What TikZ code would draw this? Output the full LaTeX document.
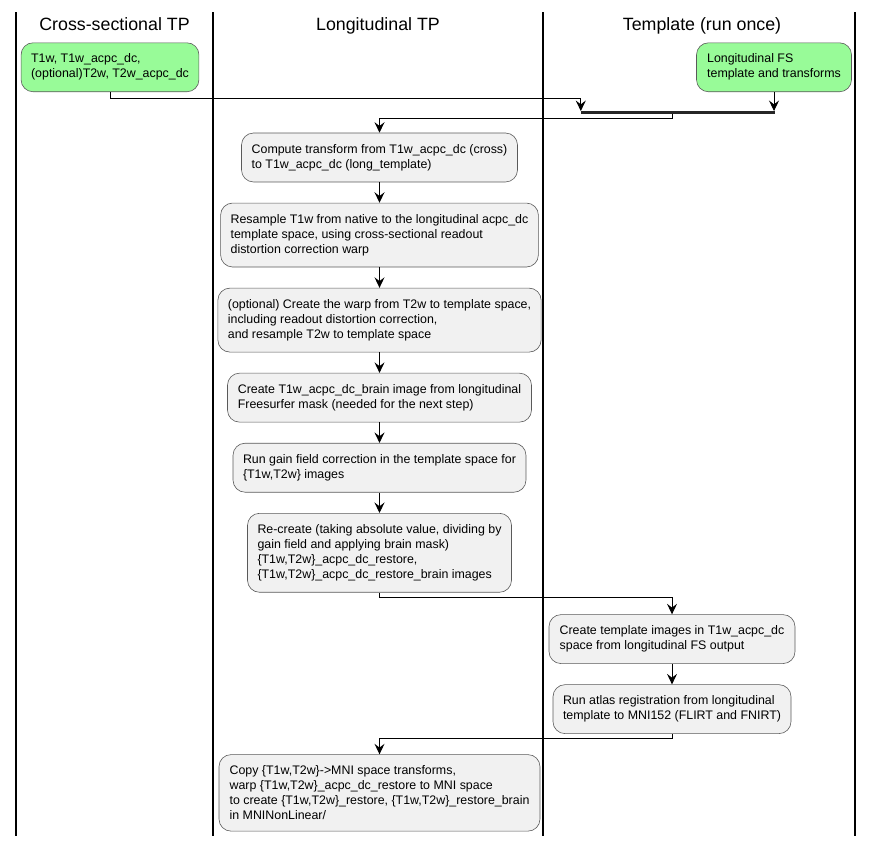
\documentclass[tikz,border=0pt]{standalone}
\usepackage{fontspec}
\setmainfont{Liberation Sans}
\usepackage{tikz}
\usepackage{xcolor}
\usetikzlibrary{arrows.meta}
\usetikzlibrary{positioning}
\definecolor{actfill}{HTML}{F1F1F1}
\definecolor{actline}{HTML}{5A5A5A}
\definecolor{startfill}{HTML}{98FB98}
\tikzstyle{myact} = [rectangle, rounded corners=12pt, draw=actline, fill=actfill,
line width=0.6pt, align=left, inner xsep=10pt, inner ysep=11.2pt,
font=\fontsize{12.4}{15}\selectfont]
\tikzstyle{lanetitle} = [anchor=base, inner sep=0pt, font=\fontsize{17.8}{20}\selectfont]

\begin{document}
\begin{tikzpicture}[x=1pt, y=-1pt]

\tikzstyle{mystart} = [myact, fill=startfill]
\tikzstyle{mybar} = [rectangle, fill=black!85, inner sep=0pt, minimum width=194pt,
minimum height=2.5pt]
\tikzstyle{myedge} = [draw, line width=0.9pt, -{Stealth[length=10.5pt, width=10pt, inset=3.8pt]}]

\useasboundingbox (0,0) rectangle (874,846);

\foreach \x in {16,213,543,855}
  \draw[line width=1.3pt] (\x,12) -- (\x,836);

\node[lanetitle] (hcross) at (114.5,30) {Cross-sectional TP};
\node[lanetitle] (hlong) at (378,30) {Longitudinal TP};
\node[lanetitle] (htmpl) at (702,30) {Template (run once)};

\node[mystart, minimum width=177pt, anchor=north] (cross) at (110,42.5)
  {T1w, T1w\_acpc\_dc,\\(optional)T2w, T2w\_acpc\_dc};
\node[mystart, minimum width=155pt, anchor=north] (ltmpl) at (774,42.5)
  {Longitudinal FS\\template and transforms};

\node[mybar] (bar) at (678,112.5) {};

\node[myact, minimum width=276pt, anchor=north] (cmp) at (379.5,132.7)
  {Compute transform from T1w\_acpc\_dc (cross)\\to T1w\_acpc\_dc (long\_template)};
\node[myact, minimum width=316pt, below=20.5pt of cmp] (rsmp)
  {Resample T1w from native to the longitudinal acpc\_dc\\template space, using cross-sectional readout\\distortion correction warp};
\node[myact, minimum width=320pt, below=20.5pt of rsmp] (warp)
  {(optional) Create the warp from T2w to template space,\\including readout distortion correction,\\and resample T2w to template space};
\node[myact, minimum width=304pt, below=20.5pt of warp] (brain)
  {Create T1w\_acpc\_dc\_brain image from longitudinal\\Freesurfer mask (needed for the next step)};
\node[myact, minimum width=292pt, below=20.5pt of brain] (gain)
  {Run gain field correction in the template space for\\\{T1w,T2w\} images};
\node[myact, minimum width=260pt, below=20.5pt of gain] (recr)
  {Re-create (taking absolute value, dividing by\\gain field and applying brain mask)\\\{T1w,T2w\}\_acpc\_dc\_restore,\\\{T1w,T2w\}\_acpc\_dc\_restore\_brain images};

\node[myact, minimum width=246pt, anchor=north] (tmpl) at (672,614.3)
  {Create template images in T1w\_acpc\_dc\\space from longitudinal FS output};
\node[myact, minimum width=233pt, below=20.5pt of tmpl] (atlas)
  {Run atlas registration from longitudinal\\template to MNI152 (FLIRT and FNIRT)};

\node[myact, minimum width=321pt, anchor=north] (mni) at (379.5,754.3)
  {Copy \{T1w,T2w\}->MNI space transforms,\\warp \{T1w,T2w\}\_acpc\_dc\_restore to MNI space\\to create \{T1w,T2w\}\_restore, \{T1w,T2w\}\_restore\_brain\\in MNINonLinear/};

% join of the two inputs
\draw[myedge] (cross.south) -- ++(0,6) -| (bar.north west);
\draw[myedge] (ltmpl.south) -- (ltmpl.south |- bar.north);
\draw[myedge] ([xshift=-6pt]bar.south) -- ++(0,4) -| (cmp.north);

\draw[myedge] (cmp) -- (rsmp);
\draw[myedge] (rsmp) -- (warp);
\draw[myedge] (warp) -- (brain);
\draw[myedge] (brain) -- (gain);
\draw[myedge] (gain) -- (recr);

\draw[myedge] (recr.south) -- ++(0,4.5) -| (tmpl.north);
\draw[myedge] (tmpl) -- (atlas);
\draw[myedge] (atlas.south) -- ++(0,5) -| (mni.north);

\end{tikzpicture}
\end{document}
